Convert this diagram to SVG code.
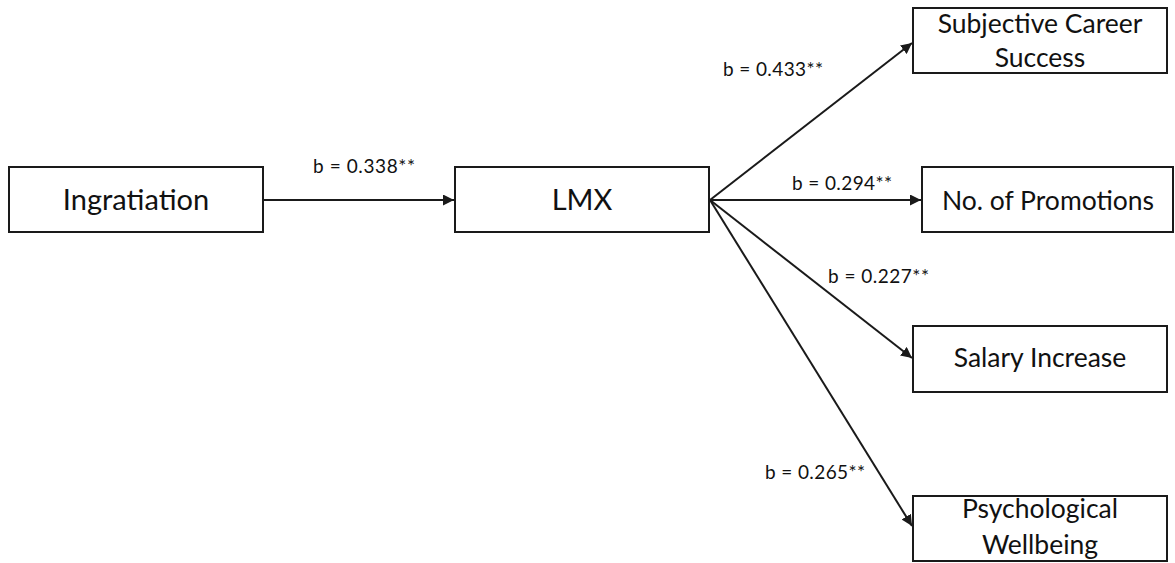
<svg xmlns="http://www.w3.org/2000/svg" width="1175" height="563" viewBox="0 0 1175 563">
  <style>
    .box { fill: #ffffff; stroke: #1a1a1a; stroke-width: 2; }
    .node-text { font-family: Lato, "Open Sans", sans-serif; fill: #111111; text-anchor: middle; }
    .big { font-size: 29px; }
    .mid { font-size: 26.5px; }
    .edge { stroke: #1a1a1a; stroke-width: 2; fill: none; }
    .label { font-family: Lato, "Open Sans", sans-serif; font-size: 19px; fill: #111111; }
  </style>
  <defs>
    <marker id="arrow" viewBox="0 0 10 10" refX="10" refY="5" markerWidth="5.5" markerHeight="5.5" orient="auto" markerUnits="strokeWidth">
      <path d="M0,0 L10,5 L0,10 z" fill="#1a1a1a"/>
    </marker>
  </defs>
  <rect width="1175" height="563" fill="#ffffff"/>

  <g id="connectors">
    <line class="edge" x1="263" y1="200" x2="454" y2="200" marker-end="url(#arrow)"/>
    <line class="edge" x1="710" y1="200" x2="912" y2="43" marker-end="url(#arrow)"/>
    <line class="edge" x1="710" y1="200" x2="921" y2="200" marker-end="url(#arrow)"/>
    <line class="edge" x1="710" y1="200" x2="912" y2="358" marker-end="url(#arrow)"/>
    <line class="edge" x1="710" y1="200" x2="912" y2="526" marker-end="url(#arrow)"/>
    <text class="label" x="313" y="173" textLength="102">b = 0.338**</text>
    <text class="label" x="723" y="76" textLength="100">b = 0.433**</text>
    <text class="label" x="792" y="190" textLength="100">b = 0.294**</text>
    <text class="label" x="828" y="283" textLength="101">b = 0.227**</text>
    <text class="label" x="765" y="479" textLength="100">b = 0.265**</text>
  </g>

  <g id="node-ingratiation">
    <rect class="box" x="9" y="167" width="254" height="65"/>
    <text class="node-text big" x="136" y="210">Ingratiation</text>
  </g>

  <g id="node-lmx">
    <rect class="box" x="455" y="167" width="254" height="65"/>
    <text class="node-text big" x="582" y="210">LMX</text>
  </g>

  <g id="node-subjective-career-success">
    <rect class="box" x="913" y="8" width="254" height="65"/>
    <text class="node-text mid" x="1040" y="33">Subjective Career</text>
    <text class="node-text mid" x="1040" y="67">Success</text>
  </g>

  <g id="node-promotions">
    <rect class="box" x="922" y="167" width="251" height="65"/>
    <text class="node-text mid" x="1048" y="210">No. of Promotions</text>
  </g>

  <g id="node-salary-increase">
    <rect class="box" x="913" y="326" width="254" height="66"/>
    <text class="node-text mid" x="1040" y="367">Salary Increase</text>
  </g>

  <g id="node-psychological-wellbeing">
    <rect class="box" x="913" y="496" width="254" height="65"/>
    <text class="node-text mid" x="1040" y="518">Psychological</text>
    <text class="node-text mid" x="1040" y="554">Wellbeing</text>
  </g>
</svg>
